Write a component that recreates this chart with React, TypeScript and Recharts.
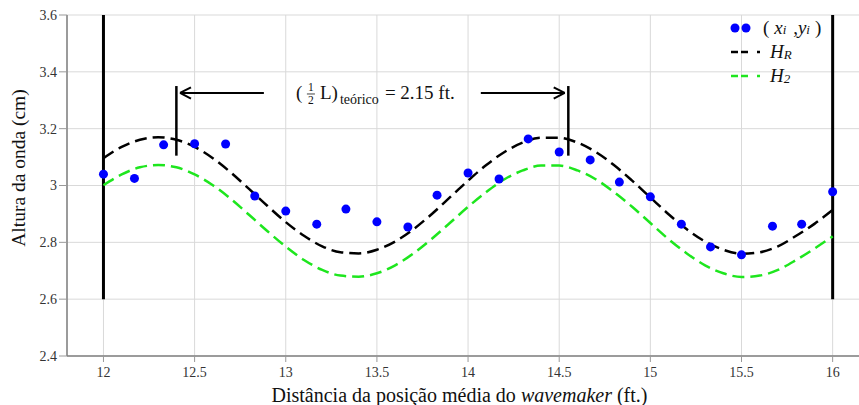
import {
  ComposedChart,
  Line,
  Scatter,
  XAxis,
  YAxis,
  CartesianGrid,
  ReferenceLine,
  ReferenceDot,
  Legend
} from 'recharts';

// measured points (xi, yi)
const pointX = [12, 12.17, 12.33, 12.5, 12.67, 12.83, 13, 13.17, 13.33, 13.5, 13.67, 13.83, 14, 14.17, 14.33, 14.5, 14.67, 14.83, 15, 15.17, 15.33, 15.5, 15.67, 15.83, 16];
const pointY = [3.04, 3.025, 3.143, 3.147, 3.146, 2.963, 2.91, 2.864, 2.917, 2.872, 2.854, 2.966, 3.044, 3.023, 3.164, 3.118, 3.09, 3.012, 2.96, 2.864, 2.784, 2.756, 2.857, 2.864, 2.978];

// curves, every 0.1 ft
const curveX = [12, 12.1, 12.2, 12.3, 12.4, 12.5, 12.6, 12.7, 12.8, 12.9, 13, 13.1, 13.2, 13.3, 13.4, 13.5, 13.6, 13.7, 13.8, 13.9, 14, 14.1, 14.2, 14.3, 14.4, 14.5, 14.6, 14.7, 14.8, 14.9, 15, 15.1, 15.2, 15.3, 15.4, 15.5, 15.6, 15.7, 15.8, 15.9, 16];
const hR = [3.096, 3.136, 3.161, 3.17, 3.161, 3.136, 3.096, 3.045, 2.987, 2.928, 2.871, 2.823, 2.786, 2.765, 2.761, 2.774, 2.803, 2.846, 2.899, 2.958, 3.017, 3.072, 3.118, 3.151, 3.168, 3.168, 3.151, 3.118, 3.072, 3.017, 2.958, 2.899, 2.846, 2.803, 2.774, 2.76, 2.765, 2.786, 2.823, 2.865, 2.914];
const h2 = [3.001, 3.039, 3.064, 3.072, 3.064, 3.039, 3.001, 2.952, 2.896, 2.839, 2.785, 2.738, 2.703, 2.683, 2.679, 2.691, 2.719, 2.761, 2.812, 2.868, 2.925, 2.977, 3.022, 3.053, 3.07, 3.07, 3.053, 3.022, 2.977, 2.925, 2.868, 2.811, 2.761, 2.719, 2.691, 2.678, 2.683, 2.703, 2.738, 2.778, 2.821];

const xTicks = [12, 12.5, 13, 13.5, 14, 14.5, 15, 15.5, 16];
const yTicks = [2.4, 2.6, 2.8, 3, 3.2, 3.4, 3.6];

const halfL = 2.15;
const markStart = 12.4;

const points = pointX.map((x, i) => ({ x, y: pointY[i] }));
const curveR = curveX.map((x, i) => ({ x, y: hR[i] }));
const curve2 = curveX.map((x, i) => ({ x, y: h2[i] }));

const serif = '"Liberation Serif", "DejaVu Serif", serif';
const GREEN = '#1ee61e';
const BLUE = '#0000ff';

const tickStyle = { fontFamily: serif, fontSize: 14, fill: '#333' };

function renderLegend() {
  return (
    <svg width={140} height={80} style={{ fontFamily: serif, overflow: 'visible' }}>
      <circle cx={15} cy={16} r={4.5} fill={BLUE} />
      <circle cx={26} cy={16} r={4.5} fill={BLUE} />
      <text x={43} y={22} fontSize={19} fill="#111">
        (<tspan dx={5} fontStyle="italic">x</tspan>
        <tspan fontStyle="italic" fontSize={13}>i</tspan>
        <tspan dx={2}> ,</tspan>
        <tspan fontStyle="italic">y</tspan>
        <tspan fontStyle="italic" fontSize={13}>i</tspan>
        <tspan dx={5}>)</tspan>
      </text>
      <line x1={11} x2={18} y1={40} y2={40} stroke="#000" strokeWidth={2.5} />
      <line x1={21} x2={28} y1={40} y2={40} stroke="#000" strokeWidth={2.5} />
      <line x1={37} x2={40} y1={40} y2={40} stroke="#000" strokeWidth={2.5} />
      <text x={50} y={46} fontSize={19} fontStyle="italic" fill="#111">
        H<tspan fontSize={13} dy={1}>R</tspan>
      </text>
      <line x1={11} x2={18} y1={64} y2={64} stroke={GREEN} strokeWidth={2.5} />
      <line x1={21} x2={28} y1={64} y2={64} stroke={GREEN} strokeWidth={2.5} />
      <line x1={37} x2={40} y1={64} y2={64} stroke={GREEN} strokeWidth={2.5} />
      <text x={50} y={70} fontSize={19} fontStyle="italic" fill="#111">
        H<tspan fontSize={13} dy={1}>2</tspan>
      </text>
    </svg>
  );
}

function HalfLabel(props: any) {
  const { viewBox } = props;
  const cx = viewBox.x + viewBox.width / 2;
  const cy = viewBox.y + viewBox.height / 2;
  return (
    <g fontFamily={serif} fill="#111">
      <text x={cx - 81} y={cy + 6} fontSize={19}>(</text>
      <text x={cx - 66} y={cy - 2} fontSize={11.5} textAnchor="middle">1</text>
      <line x1={cx - 70} x2={cx - 62} y1={cy + 1} y2={cy + 1} stroke="#111" strokeWidth={0.8} />
      <text x={cx - 66} y={cy + 11} fontSize={11.5} textAnchor="middle">2</text>
      <text x={cx - 57} y={cy + 6} fontSize={19}>L)</text>
      <text x={cx - 37} y={cy + 11} fontSize={14}>teórico</text>
      <text x={cx + 8} y={cy + 6} fontSize={19}>= 2.15 ft.</text>
    </g>
  );
}

function XTitle(props: any) {
  const { viewBox } = props;
  return (
    <text
      x={viewBox.x + viewBox.width / 2 - 4}
      y={viewBox.y + 46}
      textAnchor="middle"
      fontFamily={serif}
      fontSize={20}
      fill="#111"
    >
      Distância da posição média do <tspan fontStyle="italic">wavemaker</tspan> (ft.)
    </text>
  );
}

function YTitle(props: any) {
  const { viewBox } = props;
  const x = 25;
  const y = viewBox.y + 153;
  return (
    <text
      x={x}
      y={y}
      transform={`rotate(-90, ${x}, ${y})`}
      textAnchor="middle"
      fontFamily={serif}
      fontSize={19.5}
      fill="#111"
    >
      Altura da onda (cm)
    </text>
  );
}

const arrowY = 3.3256;
const headDx = 0.06;
const headDy = 0.02;

export default function App() {
  const markEnd = markStart + halfL;
  return (
    <div style={{ position: 'absolute', left: 0, top: 0, width: 859, height: 405, overflow: 'hidden', background: '#fff' }}>
      <ComposedChart width={870} height={405} margin={{ top: 15, right: 10, bottom: 0, left: 0 }}>
        <CartesianGrid stroke="#d9d9d9" strokeWidth={1} />
        <XAxis
          type="number"
          dataKey="x"
          domain={[11.8, 16.15]}
          ticks={xTicks}
          allowDataOverflow
          height={49}
          tick={tickStyle}
          tickSize={6}
          tickMargin={5}
          axisLine={{ stroke: '#808080', strokeWidth: 1.5 }}
          tickLine={{ stroke: '#999' }}
          label={<XTitle />}
        />
        <YAxis
          type="number"
          dataKey="y"
          domain={[2.4, 3.6]}
          ticks={yTicks}
          allowDataOverflow
          width={67}
          tick={tickStyle}
          tickSize={8}
          tickMargin={2}
          axisLine={{ stroke: '#808080', strokeWidth: 1.5 }}
          tickLine={{ stroke: '#999' }}
          label={<YTitle />}
        />
        <ReferenceLine segment={[{ x: 12, y: 3.6 }, { x: 12, y: 2.6 }]} stroke="#000" strokeWidth={3} />
        <ReferenceLine segment={[{ x: 16, y: 3.6 }, { x: 16, y: 2.6 }]} stroke="#000" strokeWidth={3} />
        <ReferenceLine segment={[{ x: markStart, y: 3.35 }, { x: markStart, y: 3.105 }]} stroke="#000" strokeWidth={2.5} />
        <ReferenceLine segment={[{ x: markEnd, y: 3.35 }, { x: markEnd, y: 3.105 }]} stroke="#000" strokeWidth={2.5} />
        <ReferenceLine segment={[{ x: markStart + 0.02, y: arrowY }, { x: 12.88, y: arrowY }]} stroke="#000" strokeWidth={2} />
        <ReferenceLine segment={[{ x: markStart + 0.02, y: arrowY }, { x: markStart + 0.02 + headDx, y: arrowY + headDy }]} stroke="#000" strokeWidth={2} />
        <ReferenceLine segment={[{ x: markStart + 0.02, y: arrowY }, { x: markStart + 0.02 + headDx, y: arrowY - headDy }]} stroke="#000" strokeWidth={2} />
        <ReferenceLine segment={[{ x: 14.07, y: arrowY }, { x: markEnd - 0.02, y: arrowY }]} stroke="#000" strokeWidth={2} />
        <ReferenceLine segment={[{ x: markEnd - 0.02, y: arrowY }, { x: markEnd - 0.02 - headDx, y: arrowY + headDy }]} stroke="#000" strokeWidth={2} />
        <ReferenceLine segment={[{ x: markEnd - 0.02, y: arrowY }, { x: markEnd - 0.02 - headDx, y: arrowY - headDy }]} stroke="#000" strokeWidth={2} />
        <ReferenceDot x={13.5} y={arrowY} r={1} fill="none" stroke="none" label={<HalfLabel />} />
        <Line
          data={curveR}
          dataKey="y"
          type="monotone"
          stroke="#000"
          strokeWidth={2.5}
          strokeDasharray="12 6"
          dot={false}
          isAnimationActive={false}
        />
        <Line
          data={curve2}
          dataKey="y"
          type="monotone"
          stroke={GREEN}
          strokeWidth={2.5}
          strokeDasharray="12 6"
          dot={false}
          isAnimationActive={false}
        />
        <Scatter data={points} dataKey="y" fill={BLUE} shape={(p: any) => <circle cx={p.cx} cy={p.cy} r={4.5} fill={BLUE} />} isAnimationActive={false} />
        <Legend
          content={renderLegend}
          layout="horizontal"
          verticalAlign="middle"
          align="center"
          wrapperStyle={{ left: 720, top: 12, width: 140, height: 80 }}
        />
      </ComposedChart>
    </div>
  );
}
